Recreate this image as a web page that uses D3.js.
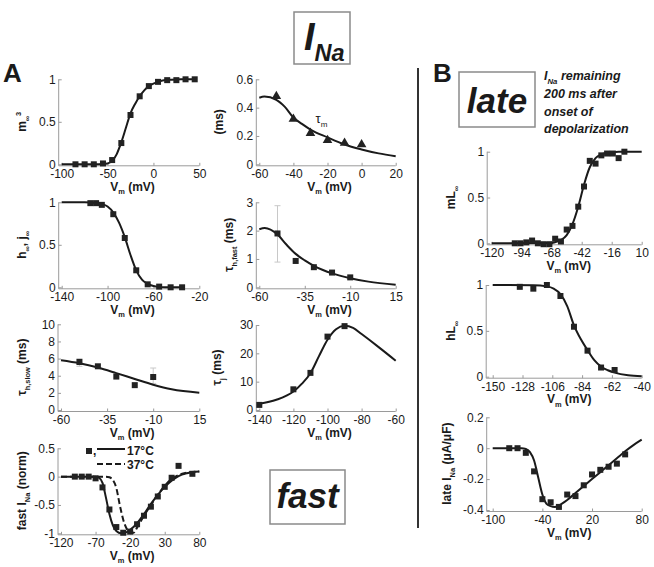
<!DOCTYPE html>
<html><head><meta charset="utf-8">
<script src="https://cdn.jsdelivr.net/npm/d3@7"></script>
<style>
body{margin:0;background:#fff}
svg{display:block}
text{font-family:"Liberation Sans",Arial,sans-serif;fill:#1a1a1a}
</style>
</head><body>
<svg id="c" width="654" height="567"></svg>
<script>
// ---------- DATA ----------
// Panel A1: m_inf^3
const mVolt = [-85,-75,-65,-55,-45,-35,-25,-15,-5,5,15,25,35,45];
const mInf3 = [0,0,0,0.01,0.05,0.25,0.58,0.8,0.92,0.97,0.99,0.99,1,1];
const mFitV = [-100,-60,-50,-45,-40,-35,-30,-25,-20,-15,-10,-5,0,5,10,20,30,45];
const mFit  = [0,0,0.01,0.04,0.12,0.26,0.43,0.6,0.71,0.8,0.87,0.92,0.95,0.97,0.985,0.995,1,1];
// Panel A2: tau_m
const tmV   = [-50,-40,-30,-20,-10,0];
const tmVal = [0.48,0.32,0.22,0.17,0.15,0.14];
const tmFitV = [-60,-57,-50,-45,-40,-35,-30,-20,-10,0,10,20];
const tmFit  = [0.47,0.478,0.455,0.405,0.33,0.285,0.245,0.19,0.14,0.105,0.077,0.057];
// Panel A3: h_inf, j_inf
const hV   = [-115,-110,-105,-95,-85,-75,-65,-55,-45,-35];
const hVal = [0.99,0.99,0.97,0.86,0.58,0.2,0.035,0.008,0,0];
const hFitV = [-140,-120,-110,-105,-100,-95,-90,-85,-80,-75,-70,-65,-60,-55,-50,-35];
const hFit  = [1,1,0.993,0.98,0.95,0.88,0.76,0.59,0.38,0.2,0.09,0.04,0.015,0.005,0.002,0];
// Panel A4: tau_h,fast
const thfV   = [-50,-40,-30,-20,-10];
const thfVal = [1.9,0.93,0.71,0.52,0.35];
const thfErrV = [-50], thfErrLo = [0.89], thfErrHi = [2.88];
const thfFitV = [-60,-57,-50,-45,-40,-35,-30,-25,-20,-10,0,15];
const thfFit  = [2.05,2.09,1.86,1.5,1.18,0.95,0.76,0.61,0.49,0.32,0.2,0.09];
const thfTicks = [-60,-35,-10,15];
// Panel A5: tau_h,slow
const thsV   = [-50,-40,-30,-20,-10];
const thsVal = [5.6,5.1,3.9,2.9,3.85];
const thsErrV = [-50,-10], thsErrLo = [5.1,3.1], thsErrHi = [6.0,4.9];
const thsFitV = [-60,-50,-40,-30,-20,-10,0,15];
const thsFit  = [5.8,5.45,4.95,4.3,3.62,2.95,2.42,2.02];
// Panel A6: tau_j
const tjV   = [-140,-120,-110,-100,-90];
const tjVal = [1.8,7.3,13.1,25.9,29.6];
const tjFitV = [-140,-130,-120,-115,-110,-105,-100,-95,-90,-85,-80,-70,-60];
const tjFit  = [2.2,3.6,6.5,9.3,13,19,24.8,28.5,29.7,29.0,26.8,22.2,17.4];
// Panel A7: fast I_Na (normalized)
const fV   = [-100,-90,-80,-70,-60,-50,-40,-30,-20,-10,0,10,20,30,40,50,70];
const fVal = [0,0,0,-0.03,-0.19,-0.58,-0.89,-0.99,-0.97,-0.84,-0.69,-0.53,-0.35,-0.18,-0.02,0.19,0.05];
const f17V = [-120,-70,-65,-60,-55,-50,-45,-40,-33,-25,-20,-10,0,10,20,30,40,50,62,80];
const f17  = [0,0,-0.02,-0.11,-0.37,-0.66,-0.86,-0.96,-1.0,-0.98,-0.94,-0.82,-0.66,-0.48,-0.32,-0.18,-0.07,0.01,0.06,0.09];
const f37V = [-120,-55,-50,-45,-40,-35,-30,-25,-20,-15,-10,0,10,20,30,40,50,62,80];
const f37  = [0,0,-0.01,-0.06,-0.2,-0.5,-0.76,-0.92,-0.99,-0.99,-0.9,-0.69,-0.5,-0.32,-0.16,-0.04,0.03,0.07,0.09];
const legendLabels = ["17°C","37°C"];
// Panel B1: mL_inf
const mlV   = [-100,-95,-90,-85,-80,-75,-70,-65,-60,-55,-50,-45,-40,-35,-30,-25,-20,-15,-10,-5];
const mlVal = [0,0,0.01,0.03,0,-0.01,-0.01,0.05,0.02,0.15,0.19,0.4,0.62,0.9,0.87,0.96,0.98,0.98,0.93,1.0];
const mlFitV = [-120,-70,-65,-60,-55,-50,-45,-40,-35,-30,-25,-20,-15,-10,10];
const mlFit  = [0,0.003,0.012,0.035,0.09,0.21,0.4,0.64,0.83,0.93,0.97,0.985,0.995,1,1];
// Panel B2: hL_inf
const hlV   = [-130,-120,-110,-100,-90,-80,-70,-60];
const hlVal = [0.98,0.96,1.0,0.88,0.545,0.284,0.1,0.073];
const hlFitV = [-150,-120,-110,-105,-100,-95,-90,-85,-80,-75,-70,-65,-60,-50,-40];
const hlFit  = [1,0.997,0.985,0.96,0.9,0.77,0.56,0.41,0.29,0.18,0.11,0.07,0.044,0.015,0.005];
// Panel B3: late I_Na
const lV   = [-80,-70,-60,-50,-40,-30,-20,-10,0,10,20,30,40,50,60];
const lVal = [0,0,-0.03,-0.15,-0.33,-0.35,-0.38,-0.3,-0.31,-0.24,-0.17,-0.14,-0.12,-0.1,-0.04];
const lFitV = [-100,-65,-60,-55,-50,-45,-40,-35,-30,-25,-20,-10,0,10,20,30,40,50,60,70,80];
const lFit  = [0,0,-0.005,-0.025,-0.08,-0.19,-0.3,-0.36,-0.375,-0.38,-0.37,-0.335,-0.29,-0.245,-0.2,-0.155,-0.11,-0.065,-0.02,0.02,0.055];
const lateNote = ["remaining","200 ms after","onset of","depolarization"];

// ---------- DRAWING ----------
const svg = d3.select("#c");
const INK = "#1a1a1a", AXC = "#9a9a9a";

function rich(t, parts, fs){
  let shift = 0;
  parts.forEach(([s,m])=>{
    const target = m==="sub" ? fs*0.3 : m==="sup" ? -fs*0.38 : 0;
    t.append("tspan").text(s).attr("dy", target-shift)
     .attr("font-size", m==="n" ? fs : fs*0.62);
    shift = target;
  });
  return t;
}

function panel(o){
  const x = d3.scaleLinear().domain(o.xd).range(o.xr);
  const y = d3.scaleLinear().domain(o.yd).range(o.yr);
  const g = svg.append("g");
  const ax = o.xr[0] - (o.gx ?? 3);
  const ay = o.yr[0] + (o.gy ?? 1.5);
  g.append("path").attr("d", `M${ax},${o.yr[1]}V${ay}H${o.xr[1]}`)
    .attr("fill","none").attr("stroke",AXC).attr("stroke-width",1);
  const xa = g.append("g").attr("transform",`translate(0,${ay})`)
    .call(d3.axisBottom(x).tickValues(o.xt).tickFormat(d=>String(d)).tickSizeInner(-3).tickSizeOuter(0).tickPadding(4));
  const ya = g.append("g").attr("transform",`translate(${ax},0)`)
    .call(d3.axisLeft(y).tickValues(o.yt).tickFormat(d=>String(d)).tickSizeInner(-3).tickSizeOuter(0).tickPadding(3));
  [xa,ya].forEach(a=>{
    a.select(".domain").remove();
    a.selectAll(".tick line").attr("stroke",AXC);
    a.selectAll(".tick text").attr("font-size",12).attr("fill","#222")
      .attr("font-family",'"Liberation Sans",Arial,sans-serif');
  });
  const xt = g.append("text").attr("x",(o.xr[0]+o.xr[1])/2+2).attr("y",ay+25)
    .attr("text-anchor","middle").attr("font-weight","bold").attr("font-size",12);
  rich(xt, [["V","n"],["m","sub"],[" (mV)","n"]], 12);
  const yt = g.append("text")
    .attr("transform",`translate(${o.ylx},${(o.yr[0]+o.yr[1])/2}) rotate(-90)`)
    .attr("text-anchor","middle").attr("font-weight","bold").attr("font-size",12);
  rich(yt, o.ylab, 12);
  return {g,x,y};
}

const line = (x,y)=> d3.line().x(d=>x(d[0])).y(d=>y(d[1])).curve(d3.curveMonotoneX);
const zip = (a,b)=> a.map((v,i)=>[v,b[i]]);
function fit(p, vx, vy, dash){
  p.g.append("path").datum(zip(vx,vy)).attr("d", line(p.x,p.y))
    .attr("fill","none").attr("stroke",INK).attr("stroke-width",2)
    .attr("stroke-dasharray", dash||null);
}
function squares(p, vx, vy){
  p.g.selectAll(null).data(zip(vx,vy)).join("rect")
    .attr("x",d=>p.x(d[0])-3).attr("y",d=>p.y(d[1])-3)
    .attr("width",6).attr("height",6).attr("fill","#222");
}
function triangles(p, vx, vy){
  p.g.selectAll(null).data(zip(vx,vy)).join("path")
    .attr("transform",d=>`translate(${p.x(d[0])},${p.y(d[1])})`)
    .attr("d", d3.symbol(d3.symbolTriangle, 40)).attr("fill","#222");
}
function errbars(p, vx, lo, hi){
  vx.forEach((v,i)=>{
    const cx = p.x(v);
    p.g.append("path").attr("d",
      `M${cx},${p.y(lo[i])}V${p.y(hi[i])}M${cx-3},${p.y(lo[i])}H${cx+3}M${cx-3},${p.y(hi[i])}H${cx+3}`)
      .attr("stroke","#c8c8c8").attr("stroke-width",1).attr("fill","none");
  });
}

// A1
const p1 = panel({xd:[-100,50], xr:[61.7,199.3], yd:[0,1], yr:[164.3,79.3],
  xt:[-100,-50,0,50], yt:[0,0.5,1], ylx:26, ylab:[["m","n"],["∞","sub"],["3","sup"]]});
fit(p1, mFitV, mFit); squares(p1, mVolt, mInf3);
// A2
const p2 = panel({xd:[-60,20], xr:[259.3,395.7], yd:[0,0.6], yr:[164.3,79.3],
  xt:[-60,-40,-20,0,20], yt:[0,0.2,0.4,0.6], ylx:223, ylab:[["(ms)","n"]]});
fit(p2, tmFitV, tmFit); triangles(p2, tmV, tmVal);
rich(p2.g.append("text").attr("x",p2.x(-27)).attr("y",p2.y(0.292)).attr("font-size",13), [["τ","n"],["m","sub"]], 13);
// A3
const p3 = panel({xd:[-140,-20], xr:[61.7,199.3], yd:[0,1], yr:[287.3,202.3],
  xt:[-140,-100,-60,-20], yt:[0,0.5,1], ylx:26, ylab:[["h","n"],["∞","sub"],[", j","n"],["∞","sub"]]});
fit(p3, hFitV, hFit); squares(p3, hV, hVal);
// A4
const p4 = panel({xd:[-60,15], xr:[259.3,395.7], yd:[0,3], yr:[287.3,202.3],
  xt:thfTicks, yt:[0,1,2,3], ylx:233, ylab:[["τ","n"],["h,fast","sub"],[" (ms)","n"]]});
errbars(p4, thfErrV, thfErrLo, thfErrHi);
fit(p4, thfFitV, thfFit); squares(p4, thfV, thfVal);
// A5
const p5 = panel({xd:[-60,15], xr:[61,199.3], yd:[0,10], yr:[410,324.3],
  xt:[-60,-35,-10,15], yt:[0,2,4,6,8,10], ylx:26, ylab:[["τ","n"],["h,slow","sub"],[" (ms)","n"]]});
errbars(p5, thsErrV, thsErrLo, thsErrHi);
fit(p5, thsFitV, thsFit); squares(p5, thsV, thsVal);
// A6
const p6 = panel({xd:[-140,-60], xr:[259.3,395.7], yd:[0,30], yr:[410,325],
  xt:[-140,-120,-100,-80,-60], yt:[0,10,20,30], ylx:221, ylab:[["τ","n"],["j","sub"],[" (ms)","n"]]});
fit(p6, tjFitV, tjFit); squares(p6, tjV, tjVal);
// A7
const p7 = panel({xd:[-120,80], xr:[61,199.3], yd:[-1,0.5], yr:[533.3,448.3],
  xt:[-120,-70,-20,30,80], yt:[-1,-0.5,0,0.5], ylx:26, ylab:[["fast I","n"],["Na","sub"],[" (norm)","n"]]});
fit(p7, f17V, f17); fit(p7, f37V, f37, "6,3"); squares(p7, fV, fVal);
{
  const g = p7.g;
  g.append("rect").attr("x",86).attr("y",448).attr("width",6).attr("height",6).attr("fill","#222");
  g.append("text").attr("x",93).attr("y",455).attr("font-size",12).attr("font-weight","bold").text(",");
  g.append("path").attr("d","M97,449H125").attr("stroke",INK).attr("stroke-width",2);
  g.append("path").attr("d","M97,464H125").attr("stroke",INK).attr("stroke-width",2).attr("stroke-dasharray","6,3");
  g.append("text").attr("x",127).attr("y",454.5).attr("font-size",12).attr("font-weight","bold")
    .attr("font-family",'"Open Sans",sans-serif').text(legendLabels[0]);
  g.append("text").attr("x",127).attr("y",469).attr("font-size",12).attr("font-weight","bold")
    .attr("font-family",'"Open Sans",sans-serif').text(legendLabels[1]);
}
// B1
const b1 = panel({xd:[-120,10], xr:[491.7,641.7], yd:[0,1], yr:[243.3,151.7], gx:4.5,
  xt:[-120,-94,-68,-42,-16,10], yt:[0,0.5,1], ylx:455, ylab:[["mL","n"],["∞","sub"]]});
fit(b1, mlFitV, mlFit); squares(b1, mlV, mlVal);
// B2
const b2 = panel({xd:[-150,-40], xr:[492.7,641.7], yd:[0,1], yr:[376.7,285], gx:6.5,
  xt:[-150,-128,-106,-84,-62,-40], yt:[0,0.5,1], ylx:455, ylab:[["hL","n"],["∞","sub"]]});
fit(b2, hlFitV, hlFit); squares(b2, hlV, hlVal);
// B3
const b3 = panel({xd:[-100,80], xr:[492.7,641.7], yd:[-0.4,0.2], yr:[510,417.3], gx:6,
  xt:[-100,-40,20,80], yt:[-0.4,-0.2,0,0.2], ylx:451, ylab:[["late I","n"],["Na","sub"],[" (μA/μF)","n"]]});
fit(b3, lFitV, lFit); squares(b3, lV, lVal);

// ---------- annotations ----------
const ann = svg.append("g");
ann.append("text").attr("x",3).attr("y",82).attr("font-size",26).attr("font-weight","bold").text("A");
ann.append("text").attr("x",433).attr("y",82).attr("font-size",26).attr("font-weight","bold").text("B");
ann.append("path").attr("d","M418,68V528").attr("stroke","#333").attr("stroke-width",2);
function box(x,y,w,h){
  ann.append("rect").attr("x",x).attr("y",y).attr("width",w).attr("height",h)
    .attr("fill","none").attr("stroke","#8a8a8a").attr("stroke-width",1.5);
}
box(294,12,56,52);
const ti = ann.append("text").attr("x",304).attr("y",50).attr("font-size",38)
  .attr("font-weight","bold").attr("font-style","italic").attr("font-family",'"Open Sans",sans-serif');
rich(ti, [["I","n"],["Na","sub"]], 38);
box(270,470,75,54);
ann.append("text").attr("x",307.5).attr("y",508).attr("text-anchor","middle").attr("font-size",35)
  .attr("font-weight","bold").attr("font-style","italic").attr("font-family",'"Open Sans",sans-serif').text("fast");
box(459,72,76,55);
ann.append("text").attr("x",497).attr("y",113).attr("text-anchor","middle").attr("font-size",35)
  .attr("font-weight","bold").attr("font-style","italic").attr("font-family",'"Open Sans",sans-serif').text("late");
const nt = ann.append("g").attr("font-family",'"Open Sans",sans-serif');
const l1 = nt.append("text").attr("x",544).attr("y",80).attr("font-size",12.5).attr("font-weight","bold").attr("font-style","italic");
rich(l1, [["I","n"],["Na","sub"],[" "+lateNote[0],"n"]], 12.5);
lateNote.slice(1).forEach((s,i)=>{
  nt.append("text").attr("x",544).attr("y",98+i*17.7).attr("font-size",12.5)
    .attr("font-weight","bold").attr("font-style","italic").text(s);
});
</script>
</body></html>
